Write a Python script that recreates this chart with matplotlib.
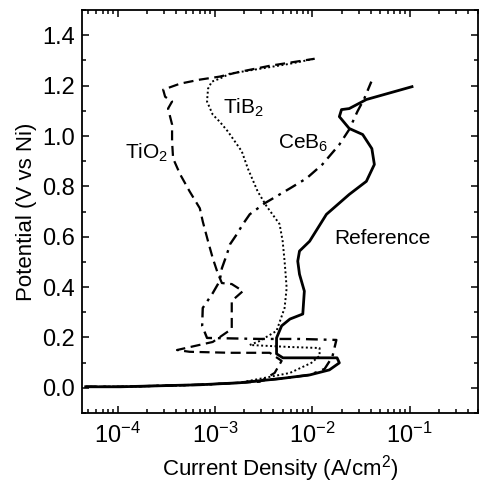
import matplotlib
matplotlib.use("Agg")
import matplotlib.pyplot as plt
from matplotlib.ticker import LogLocator, MultipleLocator, NullFormatter

plt.rcParams["font.family"] = ["Liberation Sans", "DejaVu Sans"]
plt.rcParams["mathtext.fontset"] = "custom"
plt.rcParams["mathtext.rm"] = "Liberation Sans"
plt.rcParams["mathtext.it"] = "Liberation Sans:italic"
plt.rcParams["mathtext.default"] = "regular"

# current density (A/cm2) and potential (V vs Ni) for each coating
ref_i = [4.7e-5, 1.07e-4, 2.7e-4, 7.0e-4, 1.8e-3, 4.6e-3, 9.4e-3, 1.5e-2, 1.9e-2,
         1.8e-2, 7.4e-3, 5.0e-3, 4.3e-3, 4.3e-3, 4.85e-3, 5.9e-3, 8.0e-3, 8.3e-3,
         7.4e-3, 7.1e-3, 7.4e-3, 9.4e-3, 1.4e-2, 2.4e-2, 3.6e-2, 4.35e-2, 4.1e-2,
         3.3e-2, 2.4e-2, 1.9e-2, 2.0e-2, 2.4e-2, 3.6e-2, 0.106]
ref_e = [0.004, 0.004, 0.008, 0.012, 0.020, 0.036, 0.051, 0.071, 0.099,
         0.119, 0.119, 0.119, 0.135, 0.198, 0.246, 0.273, 0.293, 0.384,
         0.451, 0.503, 0.543, 0.582, 0.689, 0.768, 0.820, 0.887, 0.950,
         1.006, 1.030, 1.077, 1.105, 1.109, 1.145, 1.196]

ceb6_i = [4.7e-5, 1.07e-4, 2.7e-4, 7.0e-4, 1.8e-3, 4.6e-3, 9.4e-3, 1.34e-2, 1.61e-2,
          1.77e-2, 7.4e-3, 2.89e-3, 8.3e-4, 7.4e-4, 7.5e-4, 9.5e-4, 1.12e-3, 1.18e-3,
          1.33e-3, 1.43e-3, 1.68e-3, 1.94e-3, 2.28e-3, 3.25e-3, 5.9e-3, 8.75e-3,
          1.27e-2, 1.9e-2, 2.4e-2, 2.91e-2, 3.43e-2, 4.05e-2]
ceb6_e = [0.004, 0.004, 0.008, 0.012, 0.020, 0.036, 0.051, 0.075, 0.123,
          0.190, 0.194, 0.194, 0.198, 0.246, 0.317, 0.376, 0.424, 0.475,
          0.531, 0.570, 0.610, 0.650, 0.689, 0.733, 0.792, 0.832,
          0.887, 0.966, 1.026, 1.097, 1.149, 1.216]

tib2_i = [4.7e-5, 1.07e-4, 2.7e-4, 7.0e-4, 1.8e-3, 2.28e-3, 5.9e-3, 9.8e-3, 1.19e-2,
          1.19e-2, 5.9e-3, 2.28e-3, 2.89e-3, 4.3e-3, 5.2e-3, 5.46e-3, 5.33e-3, 5.2e-3,
          4.97e-3, 4.62e-3, 3.4e-3, 2.75e-3, 2.18e-3, 1.89e-3, 1.36e-3, 1.12e-3,
          9.5e-4, 8.3e-4, 8.5e-4, 9.3e-4, 1.12e-3, 1.43e-3, 2.89e-3, 5.9e-3, 1.06e-2]
tib2_e = [0.004, 0.004, 0.008, 0.012, 0.020, 0.028, 0.059, 0.099, 0.127,
          0.158, 0.162, 0.170, 0.186, 0.226, 0.317, 0.396, 0.451, 0.503,
          0.582, 0.650, 0.721, 0.780, 0.871, 0.939, 1.018, 1.057,
          1.085, 1.137, 1.188, 1.216, 1.228, 1.248, 1.267, 1.287, 1.307]

tio2_i = [4.7e-5, 1.07e-4, 2.7e-4, 7.0e-4, 1.8e-3, 2.89e-3, 4.11e-3, 4.85e-3, 3.66e-3,
          1.43e-3, 5.5e-4, 4.08e-4, 6.2e-4, 9.5e-4, 1.49e-3, 1.49e-3, 1.94e-3, 1.49e-3,
          1.18e-3, 1.07e-3, 9.5e-4, 8.5e-4, 7.5e-4, 7.0e-4, 5.5e-4, 4.39e-4, 3.72e-4,
          3.63e-4, 3.63e-4, 3.3e-4, 3.63e-4, 3.08e-4, 2.94e-4, 4.39e-4, 7.0e-4,
          1.12e-3, 1.8e-3, 3.66e-3, 1.06e-2]
tio2_e = [0.004, 0.004, 0.008, 0.012, 0.020, 0.024, 0.059, 0.107, 0.139,
          0.139, 0.143, 0.150, 0.166, 0.182, 0.234, 0.345, 0.384, 0.412,
          0.416, 0.455, 0.515, 0.582, 0.661, 0.713, 0.780, 0.848, 0.911,
          0.978, 1.046, 1.109, 1.137, 1.156, 1.184, 1.208, 1.224,
          1.236, 1.255, 1.279, 1.307]

xticks = [1e-4, 1e-3, 1e-2, 1e-1]
xtick_labels = ["$10^{-4}$", "$10^{-3}$", "$10^{-2}$", "$10^{-1}$"]
yticks = [0.0, 0.2, 0.4, 0.6, 0.8, 1.0, 1.2, 1.4]
ytick_labels = ["0.0", "0.2", "0.4", "0.6", "0.8", "1.0", "1.2", "1.4"]

fig = plt.figure(figsize=(4.79, 4.83), dpi=100)
ax = fig.add_axes([0.171, 0.145, 0.826, 0.834])

ax.plot(ref_i, ref_e, color="black", lw=2.0, ls="-")
ax.plot(ceb6_i, ceb6_e, color="black", lw=1.7, dashes=(5, 2.5, 1.2, 2.5))
ax.plot(tib2_i, tib2_e, color="black", lw=1.4, dashes=(1, 1.3))
ax.plot(tio2_i, tio2_e, color="black", lw=1.6, dashes=(4.5, 2.5))

ax.set_xscale("log")
ax.set_xlim(4.3e-5, 0.5)
ax.set_ylim(-0.1, 1.5)

ax.set_xticks(xticks)
ax.set_xticklabels(xtick_labels)
ax.xaxis.set_minor_locator(LogLocator(base=10, subs=range(2, 10), numticks=20))
ax.xaxis.set_minor_formatter(NullFormatter())
ax.set_yticks(yticks)
ax.set_yticklabels(ytick_labels)
ax.yaxis.set_minor_locator(MultipleLocator(0.1))

ax.tick_params(which="both", direction="in", top=True, right=True, width=1.1, labelsize=17)
ax.tick_params(which="major", length=5)
ax.tick_params(axis="y", which="major", pad=5)
ax.tick_params(axis="x", which="major", pad=7)
ax.tick_params(which="minor", length=3)
for s in ax.spines.values():
    s.set_linewidth(1.3)

ax.set_xlabel("Current Density (A/cm$^2$)", fontsize=16, labelpad=4)
ax.set_ylabel("Potential (V vs Ni)", fontsize=16, labelpad=4)

ax.text(1.2e-4, 0.91, "TiO$_2$", fontsize=15)
ax.text(1.21e-3, 1.09, "TiB$_2$", fontsize=15)
ax.text(4.5e-3, 0.95, "CeB$_6$", fontsize=15)
ax.text(1.69e-2, 0.57, "Reference", fontsize=15)

fig.savefig("out.png", dpi=100)
